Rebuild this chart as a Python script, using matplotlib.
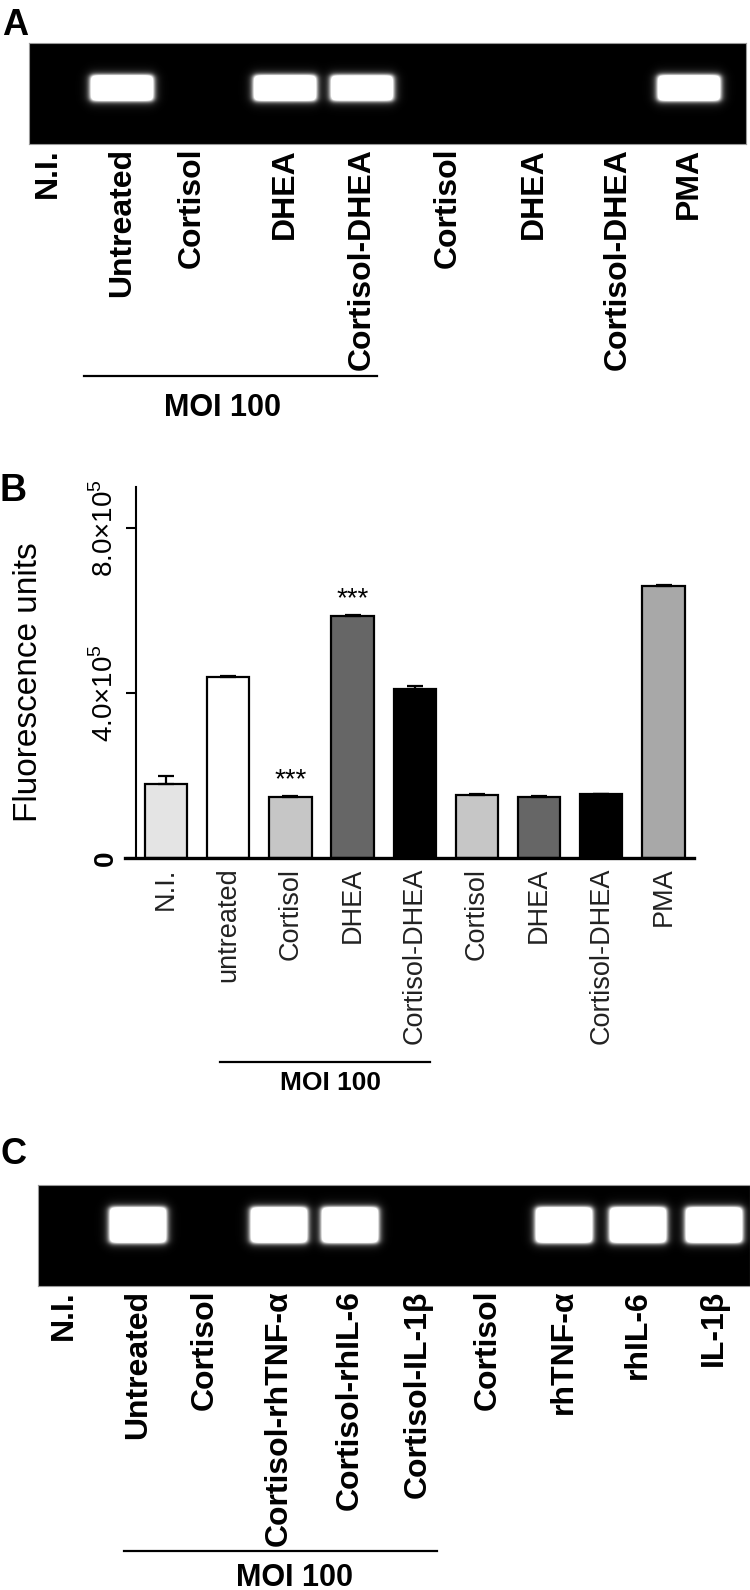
import matplotlib

matplotlib.use("Agg")
import matplotlib.pyplot as plt
import numpy as np

plt.rcParams["font.family"] = ["Liberation Sans", "DejaVu Sans"]
plt.rcParams["mathtext.fontset"] = "custom"
plt.rcParams["mathtext.rm"] = "Liberation Sans"

W, H = 750, 1590
NARROW = ["Liberation Sans Narrow", "Liberation Sans", "DejaVu Sans"]

# --- data ---
# panel A: RT-PCR gel, relative band signal per lane
gel_a_lanes = ["N.I.", "Untreated", "Cortisol", "DHEA", "Cortisol-DHEA",
               "Cortisol", "DHEA", "Cortisol-DHEA", "PMA"]
gel_a_signal = [0, 1.0, 0, 1.0, 0.95, 0, 0, 0, 1.0]

# panel B: fluorescence
bar_labels = ["N.I.", "untreated", "Cortisol", "DHEA", "Cortisol-DHEA",
              "Cortisol", "DHEA", "Cortisol-DHEA", "PMA"]
bar_values = [1.79e5, 4.40e5, 1.49e5, 5.87e5, 4.10e5, 1.54e5, 1.48e5, 1.55e5, 6.60e5]
bar_errors = [0.20e5, 0.02e5, 0.02e5, 0.03e5, 0.08e5, 0.01e5, 0.02e5, 0.01e5, 0.02e5]
bar_stars = ["", "", "***", "***", "", "", "", "", ""]
y_ticks = [0, 4.0e5, 8.0e5]
y_tick_labels = ["0", r"4.0$\times$10$^5$", r"8.0$\times$10$^5$"]

# panel C: RT-PCR gel
gel_c_lanes = ["N.I.", "Untreated", "Cortisol", "Cortisol-rhTNF-α", "Cortisol-rhIL-6",
               "Cortisol-IL-1β", "Cortisol", "rhTNF-α", "rhIL-6", "IL-1β"]
gel_c_signal = [0, 1.0, 0, 1.0, 1.0, 0, 0, 1.0, 1.0, 1.0]

# --- layout (pixels) ---
lanes_a_x = [48, 122, 192, 285, 362, 448, 534, 618, 689]
lanes_c_x = [64, 138, 205, 279, 350, 418, 488, 564, 638, 714]
bar_colors = ["#e4e4e4", "#ffffff", "#c6c6c6", "#666666", "#000000",
              "#c6c6c6", "#666666", "#000000", "#a8a8a8"]

fig = plt.figure(figsize=(W / 100, H / 100), dpi=100)
ov = fig.add_axes([0, 0, 1, 1])
ov.set_xlim(0, W)
ov.set_ylim(H, 0)
ov.axis("off")


def draw_gel(x0, x1, y0, y1, centers, signal, band_y, band_w, band_h):
    ax = fig.add_axes([x0 / W, 1 - y1 / H, (x1 - x0) / W, (y1 - y0) / H])
    xs = np.arange(x0, x1) + 0.5
    ys = np.arange(y0, y1) + 0.5
    img = np.zeros((len(ys), len(xs)))
    for c, s in zip(centers, signal):
        if s <= 0:
            continue
        bx = 1 / (1 + np.exp((np.abs(xs - c) - band_w / 2) / 1.8))
        by = 1 / (1 + np.exp((np.abs(ys - band_y) - band_h / 2) / 1.4))
        img += 1.6 * s * np.outer(by, bx)
        # faint halo around the band
        gx = 1 / (1 + np.exp((np.abs(xs - c) - band_w / 2 - 3) / 3.0))
        gy = 1 / (1 + np.exp((np.abs(ys - band_y) - band_h / 2 - 3) / 3.0))
        img += 0.25 * s * np.outer(gy, gx)
    ax.imshow(np.clip(img, 0, 1), cmap="gray", vmin=0, vmax=1,
              extent=(x0, x1, y1, y0), interpolation="bilinear", aspect="auto")
    ax.set_xlim(x0, x1)
    ax.set_ylim(y1, y0)
    ax.set_xticks([])
    ax.set_yticks([])
    for sp in ax.spines.values():
        sp.set_color("#999999")
        sp.set_linewidth(0.8)
    return ax


def lane_labels(xs, labels, y_top):
    for x, lab in zip(xs, labels):
        ov.text(x, y_top, lab, rotation=90, ha="center", va="top",
                fontsize=23, fontweight="bold")


# ---------- A ----------
ov.text(2, 8, "A", ha="left", va="top", fontsize=26, fontweight="bold", family=NARROW)
draw_gel(29, 746, 43, 144, lanes_a_x, gel_a_signal, 88, 62, 25)
lane_labels(lanes_a_x, gel_a_lanes, 148)
ov.plot([84, 377], [376, 376], color="black", lw=1.6)
ov.text(223, 408, "MOI 100", ha="center", va="center", fontsize=22,
        fontweight="bold", family=NARROW)

# ---------- B ----------
ov.text(0, 473, "B", ha="left", va="top", fontsize=27, fontweight="bold", family=NARROW)
ax = fig.add_axes([125 / W, 1 - 858 / H, 569 / W, 371 / H])
x = np.arange(len(bar_values))
ax.bar(x, bar_values, width=0.68, color=bar_colors, edgecolor="black",
       linewidth=1.6, zorder=2)
ax.errorbar(x, bar_values, yerr=[np.zeros(len(bar_errors)), bar_errors], fmt="none",
            ecolor="black", elinewidth=1.6, capsize=6, capthick=1.6, zorder=3)
for xi, v, e, s in zip(x, bar_values, bar_errors, bar_stars):
    if s:
        ax.annotate(s, (xi, v + e), xytext=(0, 6), textcoords="offset points",
                    ha="center", va="baseline", fontsize=20)
ax.set_xlim(-0.66, 8.49)
ax.set_ylim(0, 9e5)
ax.spines["left"].set_position(("data", -0.49))
ax.spines["top"].set_visible(False)
ax.spines["right"].set_visible(False)
ax.spines["left"].set_linewidth(1.5)
ax.spines["bottom"].set_linewidth(2.4)
ax.set_facecolor("none")
ax.set_yticks(y_ticks)
ax.set_yticklabels(y_tick_labels, rotation=90, va="center")
ax.get_yticklabels()[0].set_fontweight("bold")
ax.tick_params(axis="y", length=7, width=1.5, pad=5, labelsize=20)
ax.set_xticks(x)
ax.set_xticklabels(bar_labels, rotation=90, color="#222222")
ax.tick_params(axis="x", length=0, pad=7, labelsize=19.5)
ax.set_ylabel("Fluorescence units", fontsize=24)
ax.yaxis.set_label_coords(-0.142, 0.475)

ov.plot([220, 430], [1062, 1062], color="black", lw=1.6)
ov.text(330, 1083, "MOI 100", ha="center", va="center", fontsize=19,
        fontweight="bold", family=NARROW)

# ---------- C ----------
ov.text(0, 1137, "C", ha="left", va="top", fontsize=26, fontweight="bold", family=NARROW)
draw_gel(38, 750, 1185, 1286, lanes_c_x, gel_c_signal, 1225, 56, 35)
lane_labels(lanes_c_x, gel_c_lanes, 1290)
ov.plot([124, 437], [1551, 1551], color="black", lw=1.6)
ov.text(295, 1578, "MOI 100", ha="center", va="center", fontsize=22,
        fontweight="bold", family=NARROW)

fig.savefig("out.png", dpi=100)
